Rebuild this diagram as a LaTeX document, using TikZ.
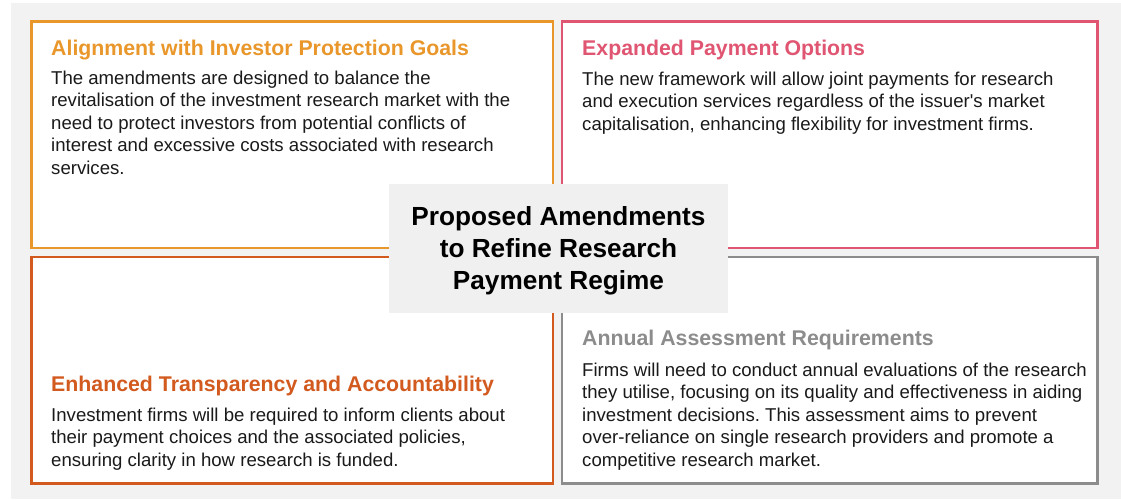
\documentclass[tikz,border=0pt]{standalone}
\usepackage{fontspec}
\setmainfont{Liberation Sans}
\frenchspacing
\definecolor{bggray}{HTML}{F2F2F2}
\definecolor{hubfill}{HTML}{F0F0F0}
\definecolor{cAlign}{HTML}{E9972B}
\definecolor{cPay}{HTML}{E05572}
\definecolor{cTrans}{HTML}{D35A1E}
\definecolor{cAssess}{HTML}{8C8C8C}
\definecolor{bodyink}{HTML}{1A1A1A}
% multi-line nodes are anchored at the baseline of their last line
\tikzset{
  panel/.style={draw=#1, line width=2.5pt, fill=white},
  ptitle/.style={anchor=base west, inner sep=0pt, text=#1,
    font=\fontsize{21.3}{25}\selectfont\bfseries},
  pbody/.style={anchor=base west, inner sep=0pt, align=left, text=bodyink,
    font=\fontsize{18.6}{22.6}\selectfont},
  hub/.style={fill=hubfill, draw=none, inner sep=0pt}
}
\begin{document}
\begin{tikzpicture}[x=1pt, y=-1pt]
\useasboundingbox (0,0) rectangle (1121,499);
\fill[bggray] (11,3) rectangle (1121,499);

% four quadrant panels
\draw[panel=cAlign]  (31.7,21.7) rectangle (553,248);
\draw[panel=cPay]    (562,21.7) rectangle (1097.5,248);
\draw[panel=cTrans]  (31.7,257) rectangle (553,483.5);
\draw[panel=cAssess] (562,257) rectangle (1097.5,483.5);

% top-left
\node[ptitle=cAlign] (t1) at (51,55) {Alignment with Investor Protection Goals};
\node[pbody] (b1) at (51,174.4) {The amendments are designed to balance the\\
revitalisation of the investment research market with the\\
need to protect investors from potential conflicts of\\
interest and excessive costs associated with research\\
services.};

% top-right
\node[ptitle=cPay] (t2) at (582,55) {Expanded Payment Options};
\node[pbody] (b2) at (582,130.2) {The new framework will allow joint payments for research\\
and execution services regardless of the issuer\textquotesingle s market\\
capitalisation, enhancing flexibility for investment firms.};

% bottom-left
\node[ptitle=cTrans] (t3) at (51,391) {Enhanced Transparency and Accountability};
\node[pbody] (b3) at (51,466.2) {Investment firms will be required to inform clients about\\
their payment choices and the associated policies,\\
ensuring clarity in how research is funded.};

% bottom-right
\node[ptitle=cAssess] (t4) at (582,345) {Annual Assessment Requirements};
\node[pbody] (b4) at (582,466.4) {Firms will need to conduct annual evaluations of the research\\
they utilise, focusing on its quality and effectiveness in aiding\\
investment decisions. This assessment aims to prevent\\
over-reliance on single research providers and promote a\\
competitive research market.};

% central hub
\fill[hubfill] (389,184) rectangle (728,313);
\node[anchor=base, inner sep=0pt, align=center,
  font=\fontsize{26.2}{32}\selectfont\bfseries] (hub) at (558.5,289)
  {Proposed Amendments\\to Refine Research\\Payment Regime};
\end{tikzpicture}
\end{document}
